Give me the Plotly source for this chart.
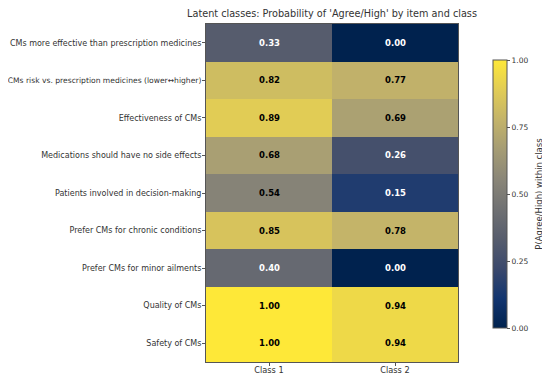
import plotly.graph_objects as go

items = [
    "CMs more effective than prescription medicines",
    "CMs risk vs. prescription medicines (lower\u2194higher)",
    "Effectiveness of CMs",
    "Medications should have no side effects",
    "Patients involved in decision-making",
    "Prefer CMs for chronic conditions",
    "Prefer CMs for minor ailments",
    "Quality of CMs",
    "Safety of CMs",
]
classes = ["Class 1", "Class 2"]
class1 = [0.33, 0.82, 0.89, 0.68, 0.54, 0.85, 0.40, 1.00, 1.00]
class2 = [0.00, 0.77, 0.69, 0.26, 0.15, 0.78, 0.00, 0.94, 0.94]
cb_ticks = [0.0, 0.25, 0.5, 0.75, 1.0]

z = [[a, b] for a, b in zip(class1, class2)]
FONT = "DejaVu Sans"

# page body has an 8px margin; the figure is sized to fit the 550x375 window
W, H = 542, 367

# the label with the wide arrow glyph is set slightly smaller so it fits
ticktext = [f'<span style="font-size:7.6px">{t}</span>' if "\u2194" in t else t for t in items]

fig = go.Figure()
fig.add_trace(go.Heatmap(
    z=z, x=classes, y=items, colorscale="Cividis", zmin=0, zmax=1,
    xgap=0, ygap=0, hoverinfo="skip",
    colorbar=dict(
        thickness=14, len=0.793, xref="container", x=485 / W, xanchor="left", xpad=0,
        y=0.497, yanchor="middle", ypad=0,
        outlinewidth=1, outlinecolor="#555",
        tickvals=cb_ticks, ticktext=[f"{v:.2f}" for v in cb_ticks],
        ticks="outside", ticklen=3, tickcolor="#555",
        tickfont=dict(family=FONT, size=7.5, color="#333"),
        title=dict(text="P(Agree/High) within class", side="right",
                   font=dict(family=FONT, size=8.5, color="#333")),
    ),
))

annotations = []
for i, it in enumerate(items):
    for j, cl in enumerate(classes):
        v = z[i][j]
        annotations.append(dict(
            x=cl, y=it, text=f"<b>{v:.2f}</b>", showarrow=False,
            font=dict(family=FONT, size=8.5, color="white" if v < 0.5 else "black"),
        ))

fig.update_layout(
    width=W, height=H,
    margin=dict(l=198, r=92, t=16, b=13, autoexpand=False),
    paper_bgcolor="white", plot_bgcolor="white",
    title=dict(text="Latent classes: Probability of 'Agree/High' by item and class",
               x=324 / W, xanchor="center", y=1 - 2 / H, yanchor="top", pad=dict(t=0, b=0),
               font=dict(family=FONT, size=9.7, color="#333")),
    annotations=annotations,
    xaxis=dict(showgrid=True, gridcolor="rgba(255,255,255,0.35)", griddash="dot", gridwidth=1,
               layer="above traces", ticks="outside", ticklen=3, tickcolor="#555",
               automargin=False, ticklabelstandoff=-3,
               showline=True, linecolor="#555", mirror=True, linewidth=1,
               tickfont=dict(family=FONT, size=8.2, color="#333")),
    yaxis=dict(showgrid=True, gridcolor="rgba(255,255,255,0.35)", griddash="dot", gridwidth=1,
               layer="above traces", autorange="reversed", ticks="outside", ticklen=3,
               automargin=False, ticklabelstandoff=-1,
               tickvals=items, ticktext=ticktext,
               tickcolor="#555", showline=True, linecolor="#555", mirror=True, linewidth=1,
               tickfont=dict(family=FONT, size=8.0, color="#333")),
)

fig.write_html("out.html")
